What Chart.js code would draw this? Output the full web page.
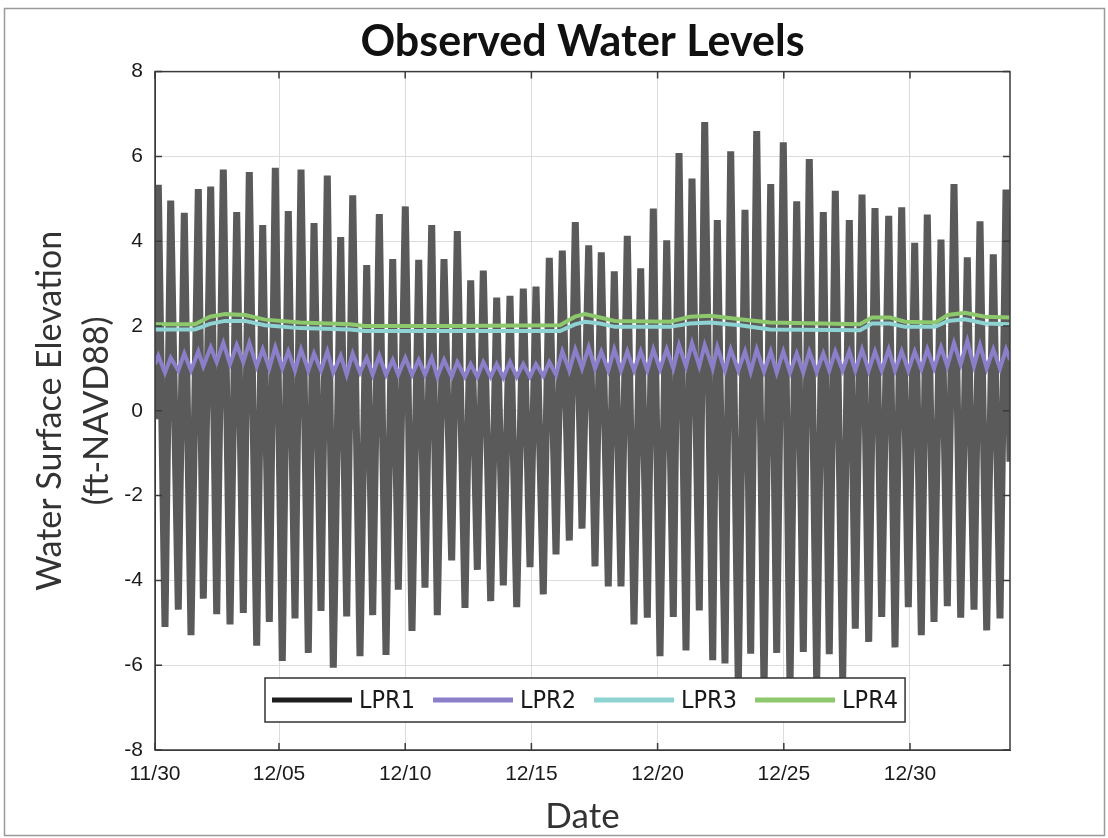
<!DOCTYPE html>
<html><head><meta charset="utf-8">
<script src="https://cdn.jsdelivr.net/npm/chart.js@4.4.1/dist/chart.umd.min.js"></script>
<style>html,body{margin:0;padding:0;background:#fff;}canvas{display:block;}</style>
</head><body>
<canvas id="c" width="1108" height="838"></canvas>
<script>
// ---- Data (days after 11/30 00:00, water level in ft-NAVD88) ----
const xTickDays = [0, 5, 10, 15, 20, 25, 30];
const xTickLabels = ['11/30', '12/05', '12/10', '12/15', '12/20', '12/25', '12/30'];
const xRange = [0.087, 33.962];
const yRange = [-8, 8];

// LPR1: times of high / low water and their levels
const highDays = [0.218,0.709,1.248,1.803,2.294,2.793,3.324,3.823,4.354,4.853,5.368,5.872,6.387,6.914,7.445,7.920,8.475,8.974,9.505,10.004,10.535,11.050,11.537,12.064,12.595,13.094,13.625,14.152,14.679,15.182,15.709,16.224,16.739,17.270,17.769,18.284,18.799,19.330,19.830,20.361,20.848,21.363,21.866,22.365,22.896,23.463,23.926,24.481,24.980,25.511,26.010,26.565,27.040,27.595,28.098,28.613,29.156,29.671,30.186,30.685,31.228,31.743,32.270,32.773,33.300,33.804];
const lowDays = [0.483,1.010,1.513,2.001,2.532,3.059,3.586,4.116,4.616,5.131,5.634,6.161,6.664,7.151,7.682,8.209,8.712,9.239,9.727,10.269,10.784,11.272,11.842,12.369,12.857,13.387,13.887,14.418,14.945,15.471,15.975,16.502,17.005,17.520,18.046,18.550,19.065,19.592,20.095,20.622,21.125,21.652,22.183,22.670,23.197,23.688,24.216,24.719,25.246,25.773,26.303,26.802,27.333,27.833,28.364,28.879,29.406,29.933,30.448,30.951,31.478,32.009,32.536,33.039,33.566];
const lpr1Highs = [5.33,4.96,4.67,5.23,5.29,5.69,4.69,5.63,4.38,5.73,4.71,5.69,4.43,5.55,4.10,5.08,3.44,4.64,3.58,4.82,3.56,4.38,3.58,4.24,3.08,3.31,2.67,2.71,2.88,2.93,3.61,3.78,4.45,3.90,3.74,3.29,4.13,3.36,4.77,4.02,6.08,5.48,6.81,4.50,6.12,4.74,6.60,5.35,6.33,4.94,5.94,4.69,5.19,4.50,5.10,4.78,4.60,4.80,3.96,4.63,4.04,5.35,3.62,4.47,3.69,5.22];
const lpr1Lows = [-5.10,-4.69,-5.29,-4.43,-4.80,-5.04,-4.77,-5.54,-4.98,-5.90,-4.90,-5.71,-4.72,-6.06,-4.85,-5.79,-4.82,-5.76,-4.22,-5.19,-4.17,-4.82,-3.53,-4.65,-3.75,-4.49,-4.12,-4.63,-3.69,-4.33,-3.39,-3.06,-2.78,-3.67,-4.14,-4.14,-5.04,-4.88,-5.79,-4.86,-5.65,-4.71,-5.88,-5.96,-6.50,-5.73,-6.60,-5.71,-6.50,-5.69,-6.40,-5.74,-6.30,-5.14,-5.45,-4.86,-5.58,-4.63,-5.29,-4.98,-4.61,-4.88,-4.69,-5.18,-4.90];
const lpr1Ends = [-0.2, -1.2];

// LPR2: high / low levels at the same tide times
const lpr2Highs = [1.30,1.25,1.35,1.40,1.50,1.60,1.55,1.60,1.45,1.50,1.40,1.45,1.35,1.40,1.30,1.35,1.25,1.30,1.20,1.25,1.20,1.25,1.20,1.15,1.10,1.15,1.10,1.15,1.10,1.10,1.15,1.40,1.45,1.50,1.40,1.45,1.40,1.40,1.45,1.45,1.55,1.60,1.55,1.50,1.45,1.40,1.45,1.40,1.40,1.35,1.40,1.35,1.40,1.40,1.45,1.40,1.45,1.40,1.40,1.45,1.50,1.60,1.65,1.55,1.45,1.45];
const lpr2Lows = [0.90,0.95,0.95,1.05,1.15,1.10,1.15,1.05,1.00,1.00,0.95,0.95,0.95,0.90,0.85,0.90,0.85,0.85,0.85,0.85,0.85,0.80,0.80,0.80,0.80,0.80,0.78,0.80,0.80,0.82,0.85,0.95,1.00,1.00,0.95,0.95,0.95,0.95,0.98,1.00,1.05,1.05,1.00,0.95,0.95,0.92,0.92,0.90,0.90,0.90,0.92,0.95,0.95,0.95,0.95,0.95,0.95,0.95,0.98,1.00,1.05,1.10,1.05,1.00,1.00];
const lpr2Ends = [1.1, 1.2];

// LPR3 / LPR4: slowly varying levels
const levelDays = [0.087,1.672,2.266,2.861,3.653,4.446,5.832,7.813,8.407,11.775,16.133,16.727,17.124,17.718,18.312,20.491,21.284,22.076,23.265,24.453,28.019,28.494,29.208,29.802,30.990,31.506,32.179,32.971,33.962];
const lpr3Values = [1.92,1.92,2.05,2.12,2.12,2.02,1.95,1.92,1.88,1.88,1.88,2.04,2.10,2.06,1.98,1.98,2.06,2.08,2.02,1.92,1.90,2.06,2.06,1.98,1.98,2.12,2.16,2.06,2.04];
const lpr4Values = [2.04,2.04,2.22,2.28,2.26,2.15,2.08,2.04,2.00,2.00,2.02,2.22,2.28,2.20,2.12,2.10,2.22,2.24,2.16,2.08,2.04,2.20,2.20,2.10,2.08,2.26,2.31,2.22,2.20];

const seriesNames = ['LPR1', 'LPR2', 'LPR3', 'LPR4'];

// ---- build point lists ----
function tidePoints(highs, lows, ends) {
  const pts = [];
  highDays.forEach((d, i) => pts.push({x: d, y: highs[i]}));
  lowDays.forEach((d, i) => pts.push({x: d, y: lows[i]}));
  pts.sort((a, b) => a.x - b.x);
  pts.unshift({x: xRange[0], y: ends[0]});
  pts.push({x: xRange[1], y: ends[1]});
  return pts;
}
function levelPoints(vals) { return levelDays.map((d, i) => ({x: d, y: vals[i]})); }

const tickFont = {family: '"Liberation Sans", Arial, sans-serif', size: 21};
const titleFamily = 'Lato, "Open Sans", sans-serif';

const bgPlugin = {
  id: 'bg',
  beforeDraw(chart) {
    const c = chart.ctx;
    c.save();
    c.fillStyle = '#fff';
    c.fillRect(0, 0, chart.width, chart.height);
    c.strokeStyle = '#9a9a9a';
    c.lineWidth = 1.5;
    c.strokeRect(4.5, 8.5, 1100, 827);
    c.restore();
  }
};

const framePlugin = {
  id: 'frame',
  afterDatasetsDraw(chart) {
    const c = chart.ctx, a = chart.chartArea;
    c.save();
    c.strokeStyle = '#3a3a3a';
    c.lineWidth = 1.5;
    c.strokeRect(a.left, a.top, a.right - a.left, a.bottom - a.top);
    const xs = chart.scales.x, ys = chart.scales.y;
    c.beginPath();
    xs.ticks.forEach(t => {
      const px = xs.getPixelForValue(t.value);
      c.moveTo(px, a.bottom); c.lineTo(px, a.bottom - 7);
      c.moveTo(px, a.top); c.lineTo(px, a.top + 7);
    });
    ys.ticks.forEach(t => {
      const py = ys.getPixelForValue(t.value);
      c.moveTo(a.left, py); c.lineTo(a.left + 7, py);
      c.moveTo(a.right, py); c.lineTo(a.right - 7, py);
    });
    c.stroke();
    c.restore();
  }
};

const legendPlugin = {
  id: 'boxLegend',
  afterDraw(chart) {
    const c = chart.ctx, a = chart.chartArea;
    c.save();
    c.font = '25px "Liberation Sans Narrow", "DejaVu Sans Condensed", sans-serif';
    const left = a.left + 110, top = a.bottom - 72, h = 44;
    const lineLen = 80, gap = 18;
    let x = left + 7;
    const items = [];
    chart.data.datasets.forEach(ds => {
      const w = c.measureText(ds.label).width;
      items.push({ds, x, w});
      x += lineLen + 7 + w + gap;
    });
    const right = x - gap + 7;
    c.fillStyle = '#fff';
    c.fillRect(left, top, right - left, h);
    c.strokeStyle = '#333';
    c.lineWidth = 1.5;
    c.strokeRect(left, top, right - left, h);
    const cy = top + h / 2;
    items.forEach(it => {
      c.strokeStyle = it.ds.legendColor || it.ds.borderColor;
      c.lineWidth = 5;
      c.beginPath(); c.moveTo(it.x, cy); c.lineTo(it.x + lineLen, cy); c.stroke();
      c.fillStyle = '#1a1a1a';
      c.textBaseline = 'middle';
      c.textAlign = 'left';
      c.fillText(it.ds.label, it.x + lineLen + 7, cy + 1);
    });
    c.restore();
  }
};

new Chart(document.getElementById('c').getContext('2d'), {
  type: 'line',
  data: {
    datasets: [
      {label: seriesNames[0], data: tidePoints(lpr1Highs, lpr1Lows, lpr1Ends), borderColor: '#5a5a5a', legendColor: '#1e1e1e', borderWidth: 7, pointRadius: 0, order: 4},
      {label: seriesNames[1], data: tidePoints(lpr2Highs, lpr2Lows, lpr2Ends), borderColor: '#8b7fca', borderWidth: 4, pointRadius: 0, order: 3},
      {label: seriesNames[2], data: levelPoints(lpr3Values), borderColor: '#8fd2d2', borderWidth: 4, pointRadius: 0, order: 2},
      {label: seriesNames[3], data: levelPoints(lpr4Values), borderColor: '#8dc86d', borderWidth: 4, pointRadius: 0, order: 1}
    ]
  },
  options: {
    responsive: false,
    animation: false,
    devicePixelRatio: 1,
    layout: {padding: {left: 0, right: 98, top: 0, bottom: 0}},
    plugins: {
      legend: {display: false},
      tooltip: {enabled: false},
      title: {
        display: true,
        fullSize: false,
        text: 'Observed Water Levels',
        color: '#111',
        font: {family: titleFamily, size: 43, weight: 'bold', lineHeight: 1.2},
        padding: {top: 16, bottom: 4}
      }
    },
    scales: {
      x: {
        type: 'linear',
        min: xRange[0],
        max: xRange[1],
        afterBuildTicks: s => { s.ticks = xTickDays.map(v => ({value: Math.max(v, s.min)})); },
        afterFit: s => { s.height = 88; },
        ticks: {
          callback: (v, i) => xTickLabels[i],
          autoSkip: false, maxRotation: 0, padding: 12,
          font: tickFont, color: '#1a1a1a'
        },
        grid: {color: '#dcdcdc', drawTicks: false},
        border: {color: '#3a3a3a'},
        title: {display: true, text: 'Date', color: '#333',
          font: {family: titleFamily, size: 35, lineHeight: 1.2}, padding: {top: 0, bottom: 0}}
      },
      y: {
        min: yRange[0],
        max: yRange[1],
        afterFit: s => { s.width = 155; },
        ticks: {stepSize: 2, padding: 12, font: tickFont, color: '#1a1a1a'},
        grid: {color: '#dcdcdc', drawTicks: false},
        border: {color: '#3a3a3a'},
        title: {display: true, text: ['Water Surface Elevation', '(ft-NAVD88)'], color: '#333',
          font: {family: titleFamily, size: 34, lineHeight: 1.4}, padding: {top: 26, bottom: 0}}
      }
    }
  },
  plugins: [bgPlugin, framePlugin, legendPlugin]
});
</script>
</body></html>
